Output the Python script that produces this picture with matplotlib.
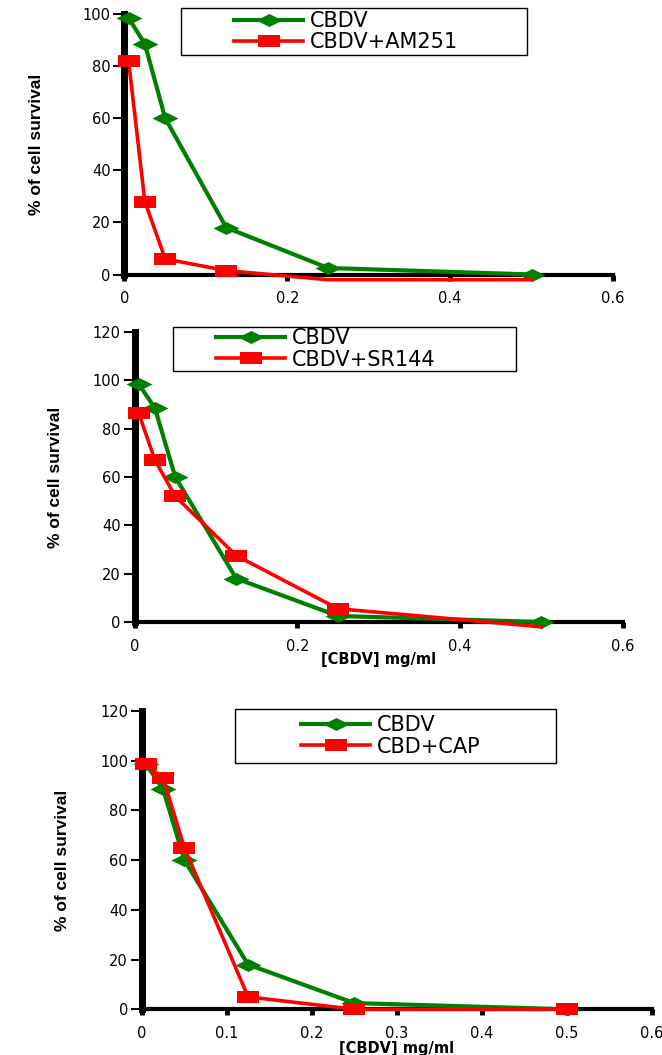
import numpy as np
import matplotlib.pyplot as plt
from matplotlib.patches import Rectangle

# concentraciones de CBDV (mg/ml)
conc = [0.005, 0.025, 0.05, 0.125, 0.25, 0.5]

# % de supervivencia celular
cbdv = [98.5, 88.5, 60, 18, 2.5, 0]
cbdv_am251 = [82, 28, 6, 1.5, -2, -2]
cbdv_sr144 = [86.5, 67, 52, 27.5, 5.5, -2]
cbd_cap = [98.5, 93, 65, 5, 0, 0]

labels_1 = ["CBDV", "CBDV+AM251"]
labels_2 = ["CBDV", "CBDV+SR144"]
labels_3 = ["CBDV", "CBD+CAP"]

xticks_a = [0, 0.2, 0.4, 0.6]
xticklabels_a = ["0", "0.2", "0.4", "0.6"]
xticks_b = [0, 0.1, 0.2, 0.3, 0.4, 0.5, 0.6]
xticklabels_b = ["0", "0.1", "0.2", "0.3", "0.4", "0.5", "0.6"]
yticks_a = [0, 20, 40, 60, 80, 100]
yticks_b = [0, 20, 40, 60, 80, 100, 120]

ylabel = "% of cell survival"
xlabel = "[CBDV] mg/ml"

W, H = 662, 1055
fig = plt.figure(figsize=(W / 100, H / 100), dpi=100)

# marcadores "estirados" como en la figura original
diamond = [(-1, 0), (0, 0.5), (1, 0), (0, -0.5), (-1, 0)]
square = [(-1, -0.55), (1, -0.55), (1, 0.55), (-1, 0.55), (-1, -0.55)]
green = "#008000"
red = "#ff0000"


def fx(px):
    return px / W


def fy(py):
    return 1 - py / H


def panel(box, yticks, xticks, xticklabels, treat, labels, leg_rect, leg_at, ylab_x, with_xlabel, xlab_y):
    left, top, right, bottom = box
    ax = fig.add_axes([fx(left), fy(bottom), fx(right - left), (bottom - top) / H])

    x = np.array(conc)
    series = [(np.array(cbdv), green, diamond, 26, 3.0), (np.array(treat), red, square, 22, 2.6)]
    handles = []
    z = 3
    for y, col, mk, ms, lw in series:
        ln, = ax.plot(x, y, color=col, lw=lw, clip_on=False, zorder=z)
        # los puntos por debajo de 0 no muestran marcador
        ym = np.where(y >= 0, y, np.nan)
        pt, = ax.plot(x, ym, ls="none", marker=mk, ms=ms * 0.72, color=col, mew=0, clip_on=False, zorder=z + 0.1)
        handles.append((ln, pt))
        z += 0.2

    ax.set_xlim(0, 0.6)
    ax.set_ylim(0, yticks[-1])
    ax.set_xticks(xticks)
    ax.set_xticklabels(xticklabels)
    ax.set_yticks(yticks)
    ax.set_yticklabels([str(t) for t in yticks])

    ax.spines["top"].set_visible(False)
    ax.spines["right"].set_visible(False)
    ax.spines["left"].set_linewidth(5)
    ax.spines["bottom"].set_linewidth(3)
    ax.tick_params(axis="x", direction="out", length=4, width=3.5, pad=8, labelsize=10.5)
    ax.tick_params(axis="y", direction="out", length=8, width=1.5, pad=2, labelsize=10.5)

    ax.set_ylabel(ylabel, fontsize=12.5, fontweight="bold", va="center",
                  family=["Liberation Sans", "DejaVu Sans"])
    ax.yaxis.set_label_coords(ylab_x, 0.5)
    if with_xlabel:
        ax.set_xlabel(xlabel, fontsize=10.5, fontweight="bold", va="center")
        ax.xaxis.set_label_coords(0.5, xlab_y)

    # leyenda
    l0, t0, r0, b0 = leg_rect
    fig.patches.append(Rectangle((fx(l0), fy(b0)), fx(r0 - l0), (b0 - t0) / H, transform=fig.transFigure,
                                 fill=False, edgecolor="black", lw=1))
    ax.legend(handles, labels, loc="center left", bbox_to_anchor=(fx(leg_at[0]), fy(leg_at[1])),
              bbox_transform=fig.transFigure, frameon=False, borderpad=0, fontsize=15,
              handlelength=3.3, handletextpad=0.3, labelspacing=0.05, numpoints=1)
    return ax


panel((124.5, 14, 613, 274.5), yticks_a, xticks_a, xticklabels_a, cbdv_am251, labels_1,
      (181, 8, 527, 55), (224, 31.5), -0.181, False, 0)
panel((134.6, 332, 622.6, 622), yticks_b, xticks_a, xticklabels_a, cbdv_sr144, labels_2,
      (173, 327, 516, 371), (206, 349), -0.162, True, -0.128)
panel((141.9, 711, 651.7, 1009.3), yticks_b, xticks_b, xticklabels_b, cbd_cap, labels_3,
      (235, 709, 556, 763), (291, 736), -0.156, True, -0.131)

fig.savefig("out.png", dpi=100)
